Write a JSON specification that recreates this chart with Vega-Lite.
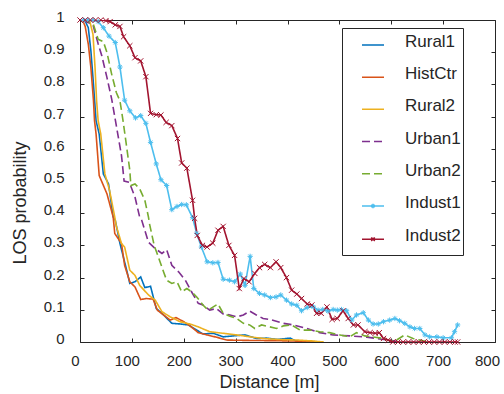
{
  "$schema": "https://vega.github.io/schema/vega-lite/v6.json",
  "width": 415,
  "height": 322,
  "autosize": {"type": "none"},
  "padding": {"left": 80, "top": 20, "right": 9, "bottom": 52},
  "background": "white",
  "config": {
    "view": {"stroke": null},
    "font": "Liberation Sans",
    "axis": {
      "grid": false,
      "domainColor": "#262626",
      "domainWidth": 1,
      "tickColor": "#262626",
      "tickWidth": 1,
      "tickSize": -4,
      "labelFont": "Liberation Sans",
      "labelFontSize": 15,
      "labelColor": "#262626",
      "labelFlush": false,
      "labelOverlap": false,
      "titleFont": "Liberation Sans",
      "titleFontSize": 18,
      "titleFontWeight": "normal",
      "titleColor": "#262626"
    }
  },
  "datasets": {
    "los": [
      {"s":"Rural1","d":5,"p":1},{"s":"Rural1","d":10,"p":0.997},{"s":"Rural1","d":16,"p":0.976},{"s":"Rural1","d":21,"p":0.904},{"s":"Rural1","d":26,"p":0.8},{"s":"Rural1","d":31,"p":0.687},{"s":"Rural1","d":37,"p":0.646},{"s":"Rural1","d":45,"p":0.522},{"s":"Rural1","d":55,"p":0.491},{"s":"Rural1","d":64,"p":0.388},{"s":"Rural1","d":68,"p":0.378},{"s":"Rural1","d":77,"p":0.306},{"s":"Rural1","d":90,"p":0.223},{"s":"Rural1","d":96,"p":0.182},{"s":"Rural1","d":106,"p":0.187},{"s":"Rural1","d":117,"p":0.202},{"s":"Rural1","d":125,"p":0.169},{"s":"Rural1","d":136,"p":0.173},{"s":"Rural1","d":147,"p":0.104},{"s":"Rural1","d":158,"p":0.089},{"s":"Rural1","d":177,"p":0.058},{"s":"Rural1","d":193,"p":0.056},{"s":"Rural1","d":209,"p":0.053},{"s":"Rural1","d":225,"p":0.037},{"s":"Rural1","d":237,"p":0.025},{"s":"Rural1","d":257,"p":0.027},{"s":"Rural1","d":276,"p":0.016},{"s":"Rural1","d":296,"p":0.019},{"s":"Rural1","d":318,"p":0.022},{"s":"Rural1","d":340,"p":0.011},{"s":"Rural1","d":360,"p":0.012},{"s":"Rural1","d":380,"p":0.008},{"s":"Rural1","d":405,"p":0.012},{"s":"Rural1","d":415,"p":0.004},{"s":"Rural1","d":430,"p":0.002},{"s":"Rural1","d":460,"p":0},
      {"s":"HistCtr","d":5,"p":1},{"s":"HistCtr","d":10,"p":0.98},{"s":"HistCtr","d":16,"p":0.925},{"s":"HistCtr","d":21,"p":0.852},{"s":"HistCtr","d":26,"p":0.749},{"s":"HistCtr","d":28,"p":0.687},{"s":"HistCtr","d":31,"p":0.646},{"s":"HistCtr","d":37,"p":0.517},{"s":"HistCtr","d":52,"p":0.46},{"s":"HistCtr","d":64,"p":0.388},{"s":"HistCtr","d":67,"p":0.337},{"s":"HistCtr","d":80,"p":0.306},{"s":"HistCtr","d":86,"p":0.238},{"s":"HistCtr","d":96,"p":0.187},{"s":"HistCtr","d":106,"p":0.171},{"s":"HistCtr","d":117,"p":0.132},{"s":"HistCtr","d":128,"p":0.135},{"s":"HistCtr","d":141,"p":0.133},{"s":"HistCtr","d":149,"p":0.099},{"s":"HistCtr","d":161,"p":0.084},{"s":"HistCtr","d":174,"p":0.068},{"s":"HistCtr","d":185,"p":0.076},{"s":"HistCtr","d":200,"p":0.063},{"s":"HistCtr","d":212,"p":0.05},{"s":"HistCtr","d":228,"p":0.029},{"s":"HistCtr","d":244,"p":0.022},{"s":"HistCtr","d":263,"p":0.015},{"s":"HistCtr","d":283,"p":0.006},{"s":"HistCtr","d":320,"p":0.005},{"s":"HistCtr","d":380,"p":0.004},{"s":"HistCtr","d":440,"p":0.002},{"s":"HistCtr","d":460,"p":0},
      {"s":"Rural2","d":5,"p":1},{"s":"Rural2","d":15,"p":1},{"s":"Rural2","d":19,"p":0.995},{"s":"Rural2","d":25,"p":0.956},{"s":"Rural2","d":29,"p":0.852},{"s":"Rural2","d":32,"p":0.749},{"s":"Rural2","d":35,"p":0.687},{"s":"Rural2","d":40,"p":0.646},{"s":"Rural2","d":48,"p":0.522},{"s":"Rural2","d":57,"p":0.471},{"s":"Rural2","d":67,"p":0.388},{"s":"Rural2","d":70,"p":0.36},{"s":"Rural2","d":80,"p":0.306},{"s":"Rural2","d":86,"p":0.295},{"s":"Rural2","d":96,"p":0.223},{"s":"Rural2","d":106,"p":0.207},{"s":"Rural2","d":115,"p":0.176},{"s":"Rural2","d":132,"p":0.146},{"s":"Rural2","d":145,"p":0.13},{"s":"Rural2","d":158,"p":0.094},{"s":"Rural2","d":174,"p":0.078},{"s":"Rural2","d":193,"p":0.063},{"s":"Rural2","d":212,"p":0.056},{"s":"Rural2","d":228,"p":0.047},{"s":"Rural2","d":250,"p":0.032},{"s":"Rural2","d":276,"p":0.027},{"s":"Rural2","d":302,"p":0.022},{"s":"Rural2","d":328,"p":0.016},{"s":"Rural2","d":353,"p":0.011},{"s":"Rural2","d":380,"p":0.008},{"s":"Rural2","d":420,"p":0.006},{"s":"Rural2","d":450,"p":0.003},{"s":"Rural2","d":470,"p":0},
      {"s":"Urban1","d":5,"p":1},{"s":"Urban1","d":25,"p":0.985},{"s":"Urban1","d":35,"p":0.926},{"s":"Urban1","d":42,"p":0.889},{"s":"Urban1","d":52,"p":0.821},{"s":"Urban1","d":61,"p":0.755},{"s":"Urban1","d":70,"p":0.672},{"s":"Urban1","d":80,"p":0.579},{"s":"Urban1","d":85,"p":0.5},{"s":"Urban1","d":95,"p":0.496},{"s":"Urban1","d":106,"p":0.45},{"s":"Urban1","d":115,"p":0.388},{"s":"Urban1","d":119,"p":0.378},{"s":"Urban1","d":132,"p":0.31},{"s":"Urban1","d":145,"p":0.29},{"s":"Urban1","d":158,"p":0.275},{"s":"Urban1","d":167,"p":0.287},{"s":"Urban1","d":177,"p":0.238},{"s":"Urban1","d":190,"p":0.218},{"s":"Urban1","d":203,"p":0.192},{"s":"Urban1","d":215,"p":0.156},{"s":"Urban1","d":228,"p":0.12},{"s":"Urban1","d":237,"p":0.115},{"s":"Urban1","d":250,"p":0.099},{"s":"Urban1","d":263,"p":0.104},{"s":"Urban1","d":276,"p":0.087},{"s":"Urban1","d":289,"p":0.084},{"s":"Urban1","d":302,"p":0.078},{"s":"Urban1","d":315,"p":0.084},{"s":"Urban1","d":327,"p":0.096},{"s":"Urban1","d":340,"p":0.084},{"s":"Urban1","d":353,"p":0.073},{"s":"Urban1","d":366,"p":0.07},{"s":"Urban1","d":392,"p":0.058},{"s":"Urban1","d":411,"p":0.053},{"s":"Urban1","d":437,"p":0.042},{"s":"Urban1","d":462,"p":0.029},{"s":"Urban1","d":488,"p":0.022},{"s":"Urban1","d":520,"p":0.019},{"s":"Urban1","d":553,"p":0.015},{"s":"Urban1","d":585,"p":0.008},{"s":"Urban1","d":610,"p":0.002},
      {"s":"Urban2","d":5,"p":1},{"s":"Urban2","d":15,"p":0.997},{"s":"Urban2","d":26,"p":0.985},{"s":"Urban2","d":35,"p":0.94},{"s":"Urban2","d":45,"p":0.933},{"s":"Urban2","d":52,"p":0.899},{"s":"Urban2","d":61,"p":0.832},{"s":"Urban2","d":70,"p":0.775},{"s":"Urban2","d":77,"p":0.749},{"s":"Urban2","d":83,"p":0.687},{"s":"Urban2","d":90,"p":0.605},{"s":"Urban2","d":96,"p":0.533},{"s":"Urban2","d":98,"p":0.486},{"s":"Urban2","d":106,"p":0.491},{"s":"Urban2","d":115,"p":0.476},{"s":"Urban2","d":125,"p":0.44},{"s":"Urban2","d":132,"p":0.388},{"s":"Urban2","d":134,"p":0.367},{"s":"Urban2","d":143,"p":0.3},{"s":"Urban2","d":151,"p":0.264},{"s":"Urban2","d":161,"p":0.218},{"s":"Urban2","d":167,"p":0.192},{"s":"Urban2","d":177,"p":0.182},{"s":"Urban2","d":187,"p":0.187},{"s":"Urban2","d":196,"p":0.156},{"s":"Urban2","d":206,"p":0.166},{"s":"Urban2","d":215,"p":0.156},{"s":"Urban2","d":225,"p":0.14},{"s":"Urban2","d":237,"p":0.115},{"s":"Urban2","d":247,"p":0.099},{"s":"Urban2","d":257,"p":0.109},{"s":"Urban2","d":266,"p":0.118},{"s":"Urban2","d":276,"p":0.089},{"s":"Urban2","d":289,"p":0.08},{"s":"Urban2","d":302,"p":0.073},{"s":"Urban2","d":315,"p":0.058},{"s":"Urban2","d":327,"p":0.053},{"s":"Urban2","d":337,"p":0.042},{"s":"Urban2","d":350,"p":0.053},{"s":"Urban2","d":366,"p":0.047},{"s":"Urban2","d":379,"p":0.042},{"s":"Urban2","d":392,"p":0.05},{"s":"Urban2","d":408,"p":0.053},{"s":"Urban2","d":424,"p":0.037},{"s":"Urban2","d":444,"p":0.037},{"s":"Urban2","d":462,"p":0.032},{"s":"Urban2","d":481,"p":0.029},{"s":"Urban2","d":501,"p":0.022},{"s":"Urban2","d":520,"p":0.016},{"s":"Urban2","d":533,"p":0.029},{"s":"Urban2","d":549,"p":0.019},{"s":"Urban2","d":569,"p":0.015},{"s":"Urban2","d":585,"p":0.011},{"s":"Urban2","d":597,"p":0.004},{"s":"Urban2","d":610,"p":0.006},{"s":"Urban2","d":626,"p":0.022},{"s":"Urban2","d":642,"p":0.011},{"s":"Urban2","d":655,"p":0.006},{"s":"Urban2","d":672,"p":0},
      {"s":"Indust1","d":6,"p":1},{"s":"Indust1","d":15,"p":1},{"s":"Indust1","d":25,"p":1},{"s":"Indust1","d":35,"p":0.995},{"s":"Indust1","d":45,"p":0.976},{"s":"Indust1","d":56,"p":0.95},{"s":"Indust1","d":68,"p":0.93},{"s":"Indust1","d":77,"p":0.854},{"s":"Indust1","d":86,"p":0.751},{"s":"Indust1","d":96,"p":0.718},{"s":"Indust1","d":107,"p":0.696},{"s":"Indust1","d":117,"p":0.703},{"s":"Indust1","d":127,"p":0.679},{"s":"Indust1","d":136,"p":0.62},{"s":"Indust1","d":147,"p":0.553},{"s":"Indust1","d":156,"p":0.504},{"s":"Indust1","d":167,"p":0.486},{"s":"Indust1","d":177,"p":0.411},{"s":"Indust1","d":187,"p":0.421},{"s":"Indust1","d":196,"p":0.427},{"s":"Indust1","d":205,"p":0.426},{"s":"Indust1","d":217,"p":0.386},{"s":"Indust1","d":225,"p":0.337},{"s":"Indust1","d":234,"p":0.295},{"s":"Indust1","d":245,"p":0.249},{"s":"Indust1","d":256,"p":0.246},{"s":"Indust1","d":266,"p":0.247},{"s":"Indust1","d":276,"p":0.195},{"s":"Indust1","d":288,"p":0.192},{"s":"Indust1","d":298,"p":0.187},{"s":"Indust1","d":309,"p":0.211},{"s":"Indust1","d":318,"p":0.176},{"s":"Indust1","d":328,"p":0.266},{"s":"Indust1","d":335,"p":0.166},{"s":"Indust1","d":346,"p":0.151},{"s":"Indust1","d":356,"p":0.146},{"s":"Indust1","d":367,"p":0.138},{"s":"Indust1","d":378,"p":0.14},{"s":"Indust1","d":387,"p":0.146},{"s":"Indust1","d":398,"p":0.13},{"s":"Indust1","d":408,"p":0.118},{"s":"Indust1","d":418,"p":0.114},{"s":"Indust1","d":427,"p":0.097},{"s":"Indust1","d":438,"p":0.107},{"s":"Indust1","d":450,"p":0.109},{"s":"Indust1","d":459,"p":0.099},{"s":"Indust1","d":468,"p":0.101},{"s":"Indust1","d":478,"p":0.096},{"s":"Indust1","d":488,"p":0.101},{"s":"Indust1","d":496,"p":0.099},{"s":"Indust1","d":504,"p":0.101},{"s":"Indust1","d":514,"p":0.097},{"s":"Indust1","d":524,"p":0.068},{"s":"Indust1","d":533,"p":0.084},{"s":"Indust1","d":546,"p":0.091},{"s":"Indust1","d":556,"p":0.068},{"s":"Indust1","d":565,"p":0.056},{"s":"Indust1","d":575,"p":0.056},{"s":"Indust1","d":585,"p":0.063},{"s":"Indust1","d":597,"p":0.068},{"s":"Indust1","d":607,"p":0.073},{"s":"Indust1","d":616,"p":0.066},{"s":"Indust1","d":626,"p":0.058},{"s":"Indust1","d":636,"p":0.047},{"s":"Indust1","d":645,"p":0.042},{"s":"Indust1","d":655,"p":0.042},{"s":"Indust1","d":665,"p":0.022},{"s":"Indust1","d":674,"p":0.016},{"s":"Indust1","d":688,"p":0.016},{"s":"Indust1","d":700,"p":0.013},{"s":"Indust1","d":716,"p":0.013},{"s":"Indust1","d":722,"p":0.032},{"s":"Indust1","d":728,"p":0.053},
      {"s":"Indust2","d":0,"p":1},{"s":"Indust2","d":10,"p":1},{"s":"Indust2","d":20,"p":1},{"s":"Indust2","d":30,"p":1},{"s":"Indust2","d":40,"p":1},{"s":"Indust2","d":50,"p":0.998},{"s":"Indust2","d":58,"p":0.995},{"s":"Indust2","d":68,"p":0.985},{"s":"Indust2","d":77,"p":0.98},{"s":"Indust2","d":84,"p":0.948},{"s":"Indust2","d":96,"p":0.92},{"s":"Indust2","d":106,"p":0.883},{"s":"Indust2","d":117,"p":0.873},{"s":"Indust2","d":127,"p":0.824},{"s":"Indust2","d":136,"p":0.71},{"s":"Indust2","d":147,"p":0.706},{"s":"Indust2","d":156,"p":0.705},{"s":"Indust2","d":166,"p":0.682},{"s":"Indust2","d":177,"p":0.672},{"s":"Indust2","d":188,"p":0.632},{"s":"Indust2","d":196,"p":0.556},{"s":"Indust2","d":206,"p":0.54},{"s":"Indust2","d":217,"p":0.44},{"s":"Indust2","d":221,"p":0.384},{"s":"Indust2","d":226,"p":0.331},{"s":"Indust2","d":236,"p":0.3},{"s":"Indust2","d":245,"p":0.295},{"s":"Indust2","d":256,"p":0.307},{"s":"Indust2","d":266,"p":0.347},{"s":"Indust2","d":276,"p":0.359},{"s":"Indust2","d":287,"p":0.3},{"s":"Indust2","d":298,"p":0.269},{"s":"Indust2","d":307,"p":0.166},{"s":"Indust2","d":316,"p":0.197},{"s":"Indust2","d":326,"p":0.187},{"s":"Indust2","d":337,"p":0.213},{"s":"Indust2","d":346,"p":0.231},{"s":"Indust2","d":356,"p":0.241},{"s":"Indust2","d":367,"p":0.231},{"s":"Indust2","d":378,"p":0.249},{"s":"Indust2","d":387,"p":0.231},{"s":"Indust2","d":398,"p":0.2},{"s":"Indust2","d":408,"p":0.161},{"s":"Indust2","d":418,"p":0.149},{"s":"Indust2","d":427,"p":0.135},{"s":"Indust2","d":438,"p":0.118},{"s":"Indust2","d":447,"p":0.115},{"s":"Indust2","d":456,"p":0.089},{"s":"Indust2","d":465,"p":0.089},{"s":"Indust2","d":476,"p":0.109},{"s":"Indust2","d":486,"p":0.07},{"s":"Indust2","d":496,"p":0.073},{"s":"Indust2","d":507,"p":0.097},{"s":"Indust2","d":517,"p":0.073},{"s":"Indust2","d":527,"p":0.053},{"s":"Indust2","d":536,"p":0.053},{"s":"Indust2","d":549,"p":0.032},{"s":"Indust2","d":559,"p":0.029},{"s":"Indust2","d":569,"p":0.027},{"s":"Indust2","d":577,"p":0.029},{"s":"Indust2","d":585,"p":0.011},{"s":"Indust2","d":594,"p":0.006},{"s":"Indust2","d":603,"p":0},{"s":"Indust2","d":613,"p":0},{"s":"Indust2","d":623,"p":0},{"s":"Indust2","d":633,"p":0},{"s":"Indust2","d":643,"p":0},{"s":"Indust2","d":653,"p":0},{"s":"Indust2","d":663,"p":0},{"s":"Indust2","d":673,"p":0},{"s":"Indust2","d":683,"p":0},{"s":"Indust2","d":693,"p":0},{"s":"Indust2","d":703,"p":0},{"s":"Indust2","d":713,"p":0},{"s":"Indust2","d":723,"p":0},{"s":"Indust2","d":728,"p":0}
    ]
  },
  "data": {"name": "los"},
  "layer": [
    {
      "mark": {"type": "line", "strokeWidth": 1.6, "clip": true},
      "encoding": {
        "x": {
          "field": "d", "type": "quantitative",
          "scale": {"domain": [0, 800], "nice": false, "zero": false},
          "axis": {
            "orient": "bottom",
            "values": [0, 100, 200, 300, 400, 500, 600, 700, 800],
            "labelPadding": 15,
            "labelOffset": {"condition": {"test": "datum.value === 800", "value": -8}, "value": -5},
            "title": "Distance [m]",
            "titleX": 189,
            "titleY": 45.6,
            "titleBaseline": "alphabetic"
          }
        },
        "y": {
          "field": "p", "type": "quantitative",
          "scale": {"domain": [0, 1], "nice": false},
          "axis": {
            "orient": "left",
            "values": [0, 0.1, 0.2, 0.3, 0.4, 0.5, 0.6, 0.7, 0.8, 0.9, 1],
            "format": "~g",
            "labelPadding": 20,
            "labelOffset": -3.5,
            "title": "LOS probability",
            "titleX": -55,
            "titleY": 182.5,
            "titleAngle": -90,
            "titleBaseline": "alphabetic",
            "titleAlign": "center"
          }
        },
        "color": {
          "field": "s", "type": "nominal",
          "scale": {
            "domain": ["Rural1", "HistCtr", "Rural2", "Urban1", "Urban2", "Indust1", "Indust2"],
            "range": ["#0072BD", "#D95319", "#EDB120", "#7E2F8E", "#77AC30", "#4DBEEE", "#A2142F"]
          },
          "legend": {
            "title": "\u00a0",
            "titleOrient": "bottom",
            "titleFontSize": 6,
            "titlePadding": 3,
            "orient": "none",
            "legendX": 262,
            "legendY": 8,
            "padding": 2,
            "strokeColor": "#262626",
            "fillColor": "white",
            "symbolType": "stroke",
            "symbolSize": 484,
            "symbolStrokeWidth": 1.5,
            "symbolOffset": 17,
            "labelOffset": 20,
            "labelFont": "Liberation Sans",
            "labelFontSize": 17,
            "labelColor": "#262626",
            "labelLimit": 400,
            "rowPadding": 12.2,
            "labelExpr": "datum.label + '\u00a0\u00a0\u00a0\u00a0\u00a0\u00a0\u00a0\u00a0\u00a0'",
            "encode": {
              "symbols": {
                "update": {
                  "shape": {"signal": "datum.value === 'Indust1' ? 'M-1,0.27H1M0,0.07V0.47M-0.17,0.17L0.17,0.37M-0.17,0.37L0.17,0.17' : datum.value === 'Indust2' ? 'M-1,0.27H1M-0.16,0.11L0.16,0.43M-0.16,0.43L0.16,0.11' : 'M-1,0.27H1'"}
                }
              }
            }
          }
        },
        "strokeDash": {
          "field": "s", "type": "nominal",
          "scale": {
            "domain": ["Rural1", "HistCtr", "Rural2", "Urban1", "Urban2", "Indust1", "Indust2"],
            "range": [[1, 0], [1, 0], [1, 0], [8, 4], [8, 4], [1, 0], [1, 0]]
          }
        }
      }
    },
    {
      "transform": [{"filter": {"field": "s", "oneOf": ["Indust1", "Indust2"]}}],
      "mark": {"type": "point", "filled": false, "strokeWidth": 1, "size": 28, "opacity": 1},
      "encoding": {
        "x": {
          "field": "d", "type": "quantitative",
          "scale": {"domain": [0, 800], "nice": false, "zero": false},
          "axis": {
            "orient": "top",
            "values": [0, 100, 200, 300, 400, 500, 600, 700, 800],
            "labels": false,
            "title": null
          }
        },
        "y": {
          "field": "p", "type": "quantitative",
          "scale": {"domain": [0, 1], "nice": false},
          "axis": {
            "orient": "right",
            "values": [0, 0.1, 0.2, 0.3, 0.4, 0.5, 0.6, 0.7, 0.8, 0.9, 1],
            "labels": false,
            "title": null
          }
        },
        "shape": {
          "field": "s", "type": "nominal",
          "scale": {
            "domain": ["Indust1", "Indust2"],
            "range": ["M-1,0H1M0,-1V1M-0.7,-0.7L0.7,0.7M-0.7,0.7L0.7,-0.7", "M-1,-1L1,1M-1,1L1,-1"]
          },
          "legend": null
        },
        "stroke": {
          "field": "s", "type": "nominal",
          "scale": {"domain": ["Indust1", "Indust2"], "range": ["#4DBEEE", "#A2142F"]},
          "legend": null
        }
      }
    }
  ]
}
